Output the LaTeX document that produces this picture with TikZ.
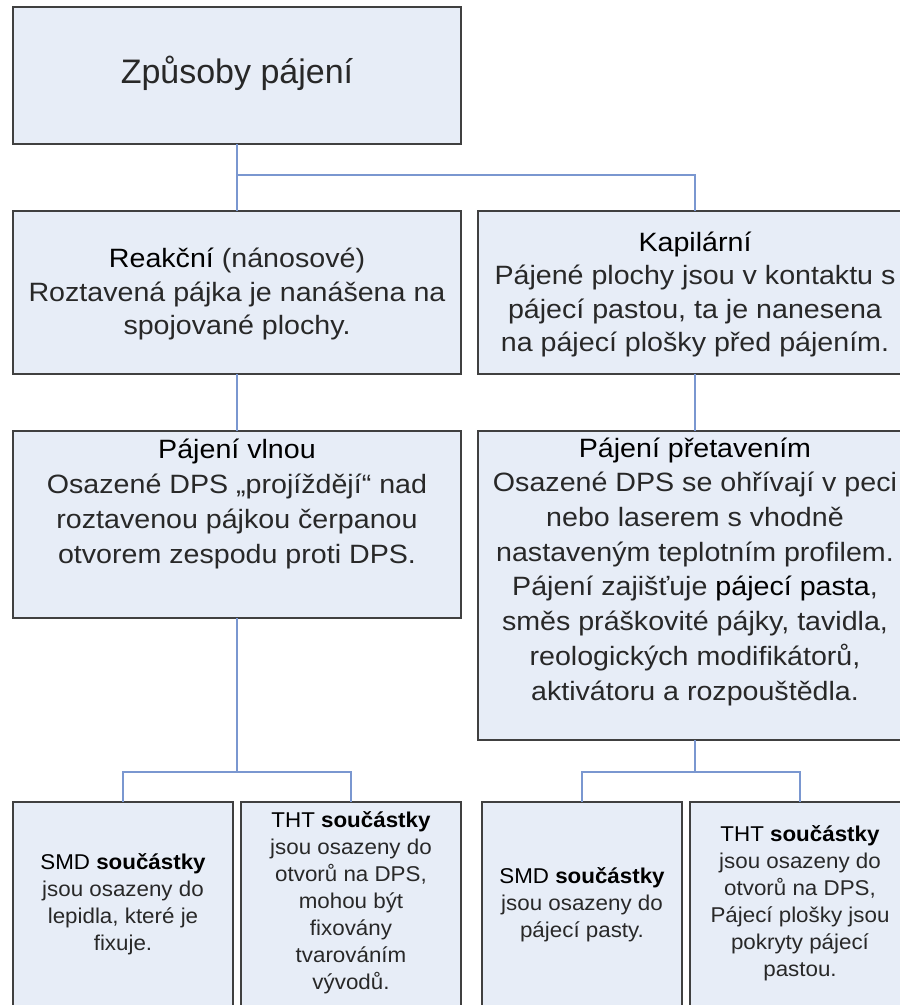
\documentclass[tikz,border=0pt]{standalone}
\usepackage{fontspec}
\setmainfont{Liberation Sans}
\newfontfamily\bodyfont{Liberation Sans}[FakeStretch=1.08]
\newfontfamily\leaffont{Liberation Sans}[FakeStretch=1.045]
\usetikzlibrary{positioning}
\definecolor{boxfill}{RGB}{231,237,247}
\definecolor{boxline}{RGB}{64,64,64}
\definecolor{linkblue}{RGB}{122,151,208}
\definecolor{bodytext}{RGB}{40,40,40}
\tikzset{basic box/.style={draw=boxline,
                           fill=boxfill,
                           line width=1.2pt,
                           inner sep=0pt,
                           outer sep=0pt}}
\tikzset{link/.style={draw=linkblue,line width=1.2pt}}
\tikzset{box text/.style={align=center,inner sep=0pt,text=bodytext}}
\newcommand{\HEAD}[1]{\textcolor{black}{#1}}
\newcommand{\PART}[1]{\textbf{#1}}

\begin{document}
\begin{tikzpicture}
      [
      x=1pt,y=-1pt,
      title text/.style={box text,font=\fontsize{34}{40}\selectfont},
      main text/.style={box text,font=\bodyfont\fontsize{26.5}{33.5}\selectfont},
      long text/.style={box text,font=\bodyfont\fontsize{26.5}{34.7}\selectfont},
      leaf text/.style={box text,font=\leaffont\fontsize{21.4}{27}\selectfont},
      ]
      \useasboundingbox (0,0) rectangle (900,1005);

      % boxes
      \foreach \n/\x/\y/\w/\h in
      {
      top/237/75.5/448/137,
      reak/237/292.5/448/163,
      kap/695/292.5/434/163,
      vlna/237/524.5/448/187,
      pret/695/585.5/434/309,
      smdA/123/904/220/204,
      thtA/351/904/220/204,
      smdB/582/904/200/204,
      thtB/800/904/220/204
      }
      {
      \node [basic box,minimum width=\w pt,minimum height=\h pt] (\n) at (\x,\y) {};
      }

      % texts
      \node [title text] (topT) at (237,73.8) {Způsoby pájení};
      \node [main text] (reakT) at (237,294) {\HEAD{Reakční} (nánosové)\\
      Roztavená pájka je nanášena na\\spojované plochy.};
      \node [main text] (kapT) at (695,294.5) {\HEAD{Kapilární}\\
      Pájené plochy jsou v kontaktu s\\pájecí pastou, ta je nanesena\\
      na pájecí plošky před pájením.};
      \node [long text] (vlnaT) at (237,504) {\HEAD{Pájení vlnou}\\
      Osazené DPS „projíždějí“ nad\\roztavenou pájkou čerpanou\\
      otvorem zespodu proti DPS.};
      \node [long text] (pretT) at (695,571.6) {\HEAD{Pájení přetavením}\\
      Osazené DPS se ohřívají v peci\\nebo laserem s vhodně\\
      nastaveným teplotním profilem.\\Pájení zajišťuje \HEAD{pájecí pasta},\\
      směs práškovité pájky, tavidla,\\reologických modifikátorů,\\
      aktivátoru a rozpouštědla.};
      \node [leaf text] (smdAT) at (123,904) {\HEAD{SMD \PART{součástky}}\\
      jsou osazeny do\\lepidla, které je\\fixuje.};
      \node [leaf text] (thtAT) at (351,903) {\HEAD{THT \PART{součástky}}\\
      jsou osazeny do\\otvorů na DPS,\\mohou být\\fixovány\\tvarováním\\vývodů.};
      \node [leaf text] (smdBT) at (582,904.5) {\HEAD{SMD \PART{součástky}}\\
      jsou osazeny do\\pájecí pasty.};
      \node [leaf text] (thtBT) at (800,903.5) {\HEAD{THT \PART{součástky}}\\
      jsou osazeny do\\otvorů na DPS,\\Pájecí plošky jsou\\pokryty pájecí\\pastou.};

      % links
      \path [link] (top.south) -- (reak.north);
      \path [link] (top.south) ++(0,31) -| (kap.north);
      \path [link] (reak.south) -- (vlna.north);
      \path [link] (kap.south) -- (pret.north);

      \path [link] (vlna.south) -- ++(0,154) coordinate (vlnaJ);
      \path [link] (vlnaJ) -| (smdA.north);
      \path [link] (vlnaJ) -| (thtA.north);

      \path [link] (pret.south) -- ++(0,32) coordinate (pretJ);
      \path [link] (pretJ) -| (smdB.north);
      \path [link] (pretJ) -| (thtB.north);

    \end{tikzpicture}
\end{document}
